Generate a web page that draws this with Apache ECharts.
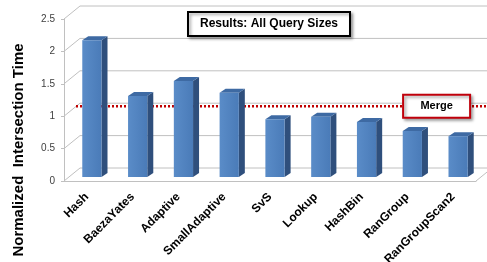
<!DOCTYPE html>
<html>
<head>
<meta charset="utf-8">
<script src="https://cdn.jsdelivr.net/npm/echarts@6/dist/echarts.min.js"></script>
<style>
  html, body { margin: 0; padding: 0; background: #fff; }
  #chart { width: 487px; height: 262px; }
</style>
</head>
<body>
<div id="chart"></div>
<script>
const categories = ['Hash', 'BaezaYates', 'Adaptive', 'SmallAdaptive', 'SvS', 'Lookup', 'HashBin', 'RanGroup', 'RanGroupScan2']
const times = [2.11, 1.25, 1.48, 1.30, 0.89, 0.93, 0.85, 0.71, 0.63]
const yTicks = [0, 0.5, 1, 1.5, 2, 2.5]
const mergeLevel = [1]

// fake 3D depth offsets (px)
const WALL = [16, -13]
const BAR_POS = [5, -4]
const BAR_DEPTH = [6, -4]
const MERGE_POS = [12, -10]
const gridColor = '#c0c0c0'
const font = 'Liberation Sans'

const chart = echarts.init(document.getElementById('chart'))

function renderWalls(params, api) {
  const v = api.value(0)
  const bw = api.size([1, 0])[0]
  const first = api.coord([0, v])
  const last = api.coord([categories.length - 1, v])
  const x0 = first[0] - bw / 2
  const x1 = last[0] + bw / 2
  const y = first[1]
  const children = [{
    type: 'polyline',
    shape: { points: [[x0, y], [x0 + WALL[0], y + WALL[1]], [x1 + WALL[0], y + WALL[1]]] },
    style: { stroke: gridColor, lineWidth: 1, fill: null }
  }]
  if (v === 0) {
    children.push({
      type: 'line',
      shape: { x1: x1, y1: y, x2: x1 + WALL[0], y2: y + WALL[1] },
      style: { stroke: gridColor, lineWidth: 1 }
    })
  }
  return { type: 'group', children }
}

function renderBar(params, api) {
  const idx = api.value(0)
  const top = api.coord([idx, api.value(1)])
  const base = api.coord([idx, 0])
  const w = api.size([1, 0])[0] * 0.42
  const xl = top[0] - w / 2 + BAR_POS[0]
  const xr = xl + w
  const yt = top[1] + BAR_POS[1]
  const yb = base[1] + BAR_POS[1]
  const dx = BAR_DEPTH[0], dy = BAR_DEPTH[1]
  return {
    type: 'group',
    children: [
      {
        type: 'polygon',
        shape: { points: [[xr, yt], [xr + dx, yt + dy], [xr + dx, yb + dy], [xr, yb]] },
        style: { fill: '#2f4f7c' }
      },
      {
        type: 'polygon',
        shape: { points: [[xl, yt], [xl + dx, yt + dy], [xr + dx, yt + dy], [xr, yt]] },
        style: { fill: '#3e6aa3' }
      },
      {
        type: 'rect',
        shape: { x: xl, y: yt, width: w, height: yb - yt },
        style: {
          fill: new echarts.graphic.LinearGradient(0, 0, 1, 0, [
            { offset: 0, color: '#5a8cc8' },
            { offset: 1, color: '#4a7bb8' }
          ])
        }
      }
    ]
  }
}

function renderMerge(params, api) {
  const v = api.value(0)
  const bw = api.size([1, 0])[0]
  const first = api.coord([0, v])
  const last = api.coord([categories.length - 1, v])
  const x0 = first[0] - bw / 2 + MERGE_POS[0]
  const x1 = last[0] + bw / 2 + MERGE_POS[0] + 10
  const y = first[1] + MERGE_POS[1]
  const bx = last[0] - 50
  return {
    type: 'group',
    children: [
      {
        type: 'line',
        shape: { x1: x0, y1: y, x2: x1, y2: y },
        style: { stroke: '#c00000', lineWidth: 2.5, lineDash: [2, 2] }
      },
      {
        type: 'rect',
        shape: { x: bx, y: y - 11.5, width: 67, height: 23 },
        style: {
          fill: '#fff', stroke: '#c0000b', lineWidth: 2,
          shadowBlur: 3, shadowOffsetX: 2, shadowOffsetY: 2, shadowColor: 'rgba(0,0,0,0.35)'
        }
      },
      {
        type: 'text',
        x: bx + 33.5, y: y,
        style: {
          text: 'Merge', align: 'center', verticalAlign: 'middle',
          font: 'bold 11px ' + font, fill: '#000'
        }
      }
    ]
  }
}

chart.setOption({
  animation: false,
  backgroundColor: '#fff',
  title: {
    text: 'Results: All Query Sizes',
    left: 188,
    top: 12,
    padding: [5, 12, 5, 12],
    backgroundColor: '#fff',
    borderColor: '#000',
    borderWidth: 2,
    shadowBlur: 3,
    shadowOffsetX: 2,
    shadowOffsetY: 2,
    shadowColor: 'rgba(0,0,0,0.35)',
    textStyle: { fontFamily: font, fontWeight: 'bold', fontSize: 12, color: '#000', lineHeight: 14 }
  },
  graphic: [{
    type: 'text',
    x: 19,
    y: 150,
    rotation: Math.PI / 2,
    style: {
      text: 'Normalized  Intersection Time',
      align: 'center',
      verticalAlign: 'middle',
      font: 'bold 15px ' + font,
      fill: '#000'
    }
  }],
  grid: { left: 64, top: 19, width: 412, height: 162, outerBoundsMode: 'none' },
  xAxis: {
    type: 'category',
    data: categories,
    axisLine: { lineStyle: { color: gridColor } },
    axisTick: { length: 4, lineStyle: { color: gridColor } },
    axisLabel: {
      rotate: 45,
      margin: 14,
      fontFamily: font,
      fontWeight: 'bold',
      fontSize: 12,
      color: '#000'
    },
    splitLine: { show: false }
  },
  yAxis: {
    type: 'value',
    min: 0,
    max: 2.5,
    interval: 0.5,
    axisLine: { show: true, lineStyle: { color: gridColor } },
    axisTick: { show: true, length: 3, lineStyle: { color: gridColor } },
    axisLabel: { margin: 9, fontFamily: font, fontSize: 10, color: '#404040' },
    splitLine: { show: false }
  },
  series: [
    {
      type: 'custom',
      silent: true,
      renderItem: renderWalls,
      data: yTicks.map(v => [v]),
      encode: { y: 0 },
      z: 1
    },
    {
      type: 'custom',
      renderItem: renderMerge,
      data: mergeLevel.map(v => [v]),
      encode: { y: 0 },
      z: 2
    },
    {
      type: 'custom',
      renderItem: renderBar,
      data: times.map((v, i) => [i, v]),
      encode: { x: 0, y: 1 },
      z: 3
    }
  ]
})
</script>
</body>
</html>
